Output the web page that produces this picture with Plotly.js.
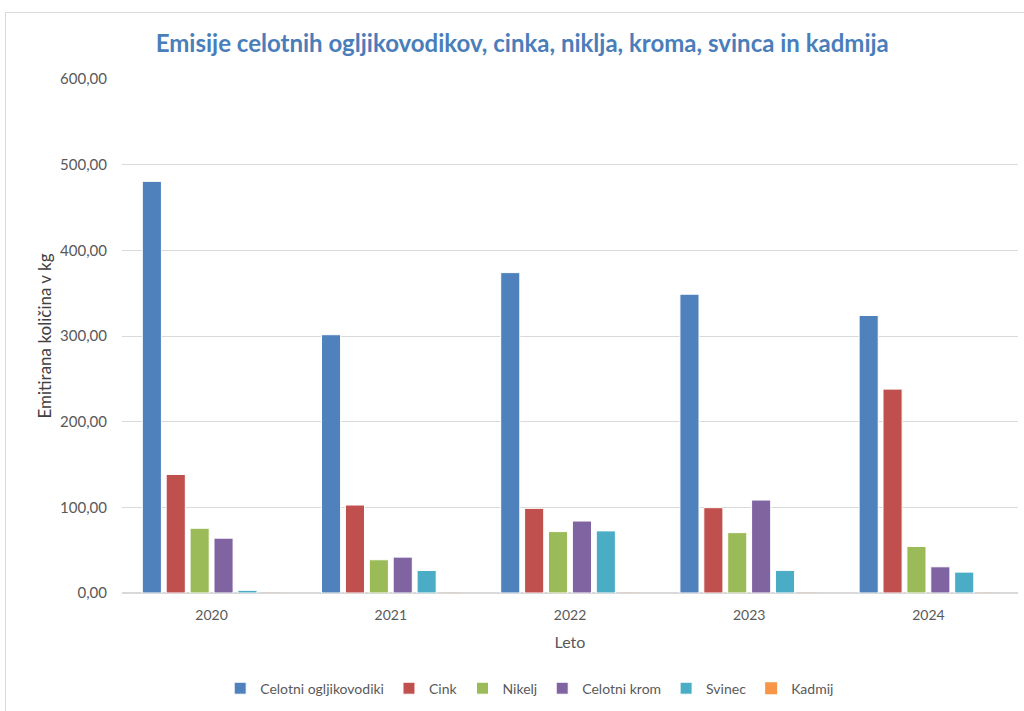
<!DOCTYPE html>
<html><head><meta charset="utf-8">
<script src="https://cdn.plot.ly/plotly-3.0.1.min.js"></script>
<style>
html,body{margin:0;padding:0;background:#fff;}
#frame{position:absolute;left:5px;top:12px;width:1030px;height:710px;border:1px solid #d9d9d9;box-sizing:border-box;}
#chart{position:absolute;left:0;top:0;width:1024px;height:711px;}
</style></head>
<body><div id="frame"></div><div id="chart"></div>
<script>
const years = ['2020','2021','2022','2023','2024'];
const ogljikovodiki = [480.5, 301.5, 374.0, 348.8, 324.0];
const cink = [138.4, 102.7, 98.8, 99.6, 238.0];
const nikelj = [75.6, 38.8, 71.7, 70.5, 54.3];
const krom = [64.0, 41.9, 84.0, 108.5, 30.6];
const svinec = [3.1, 26.3, 72.5, 26.4, 24.4];
const kadmij = [0.1, 0.1, 0.1, 0.1, 0.1];
const seriesNames = ['Celotni ogljikovodiki','Cink','Nikelj','Celotni krom','Svinec','Kadmij'];
const seriesValues = [ogljikovodiki, cink, nikelj, krom, svinec, kadmij];
const colors = ['#4F81BD','#C0504D','#9BBB59','#8064A2','#4BACC6','#F79646'];
const tickVals = [0,100,200,300,400,500,600];
const tickText = ['0,00','100,00','200,00','300,00','400,00','500,00','600,00'];

const font = 'Lato, Carlito, Calibri, sans-serif';
const traces = seriesNames.map((n,i)=>({
  type:'bar', name:n, x:years, y:seriesValues[i],
  marker:{color:colors[i], line:{color:'#ffffff', width:i===5?0:1}},
  hoverinfo:'x+y+name'
}));
const layout = {
  width:1024, height:711,
  margin:{l:122, r:6, t:79, b:116},
  paper_bgcolor:'rgba(0,0,0,0)', plot_bgcolor:'rgba(0,0,0,0)',
  font:{family:font, color:'#595959', size:14},
  title:{text:'<b>Emisije celotnih ogljikovodikov, cinka, niklja, kroma, svinca in kadmija</b>',
    font:{family:font, size:24, color:'#4A7EBB'}, x:0.51, xanchor:'center', y:0.938, yanchor:'middle'},
  barmode:'group', bargap:0.2, bargroupgap:0.2,
  xaxis:{type:'category', showgrid:false, showline:false, ticks:'', ticklabelstandoff:12,
    tickfont:{size:14,color:'#595959'},
    title:{text:'Leto', font:{size:16,color:'#595959'}, standoff:14}},
  yaxis:{range:[0,600], tickvals:tickVals, ticktext:tickText, showgrid:true, gridcolor:'#d9d9d9', gridwidth:1,
    zeroline:true, zerolinecolor:'#d9d9d9', zerolinewidth:1.5, showline:false, ticks:'', ticklabelstandoff:14,
    tickfont:{size:15,color:'#595959'},
    title:{text:'Emitirana količina v kg', font:{size:17,color:'#404040'}, standoff:4}},
  legend:{orientation:'h', x:0.455, xanchor:'center', y:-0.186, yanchor:'middle',
    font:{size:14,color:'#595959'}, itemwidth:30, tracegroupgap:0},
  showlegend:true
};
Plotly.newPlot('chart', traces, layout, {displayModeBar:false, staticPlot:true});
</script></body></html>
